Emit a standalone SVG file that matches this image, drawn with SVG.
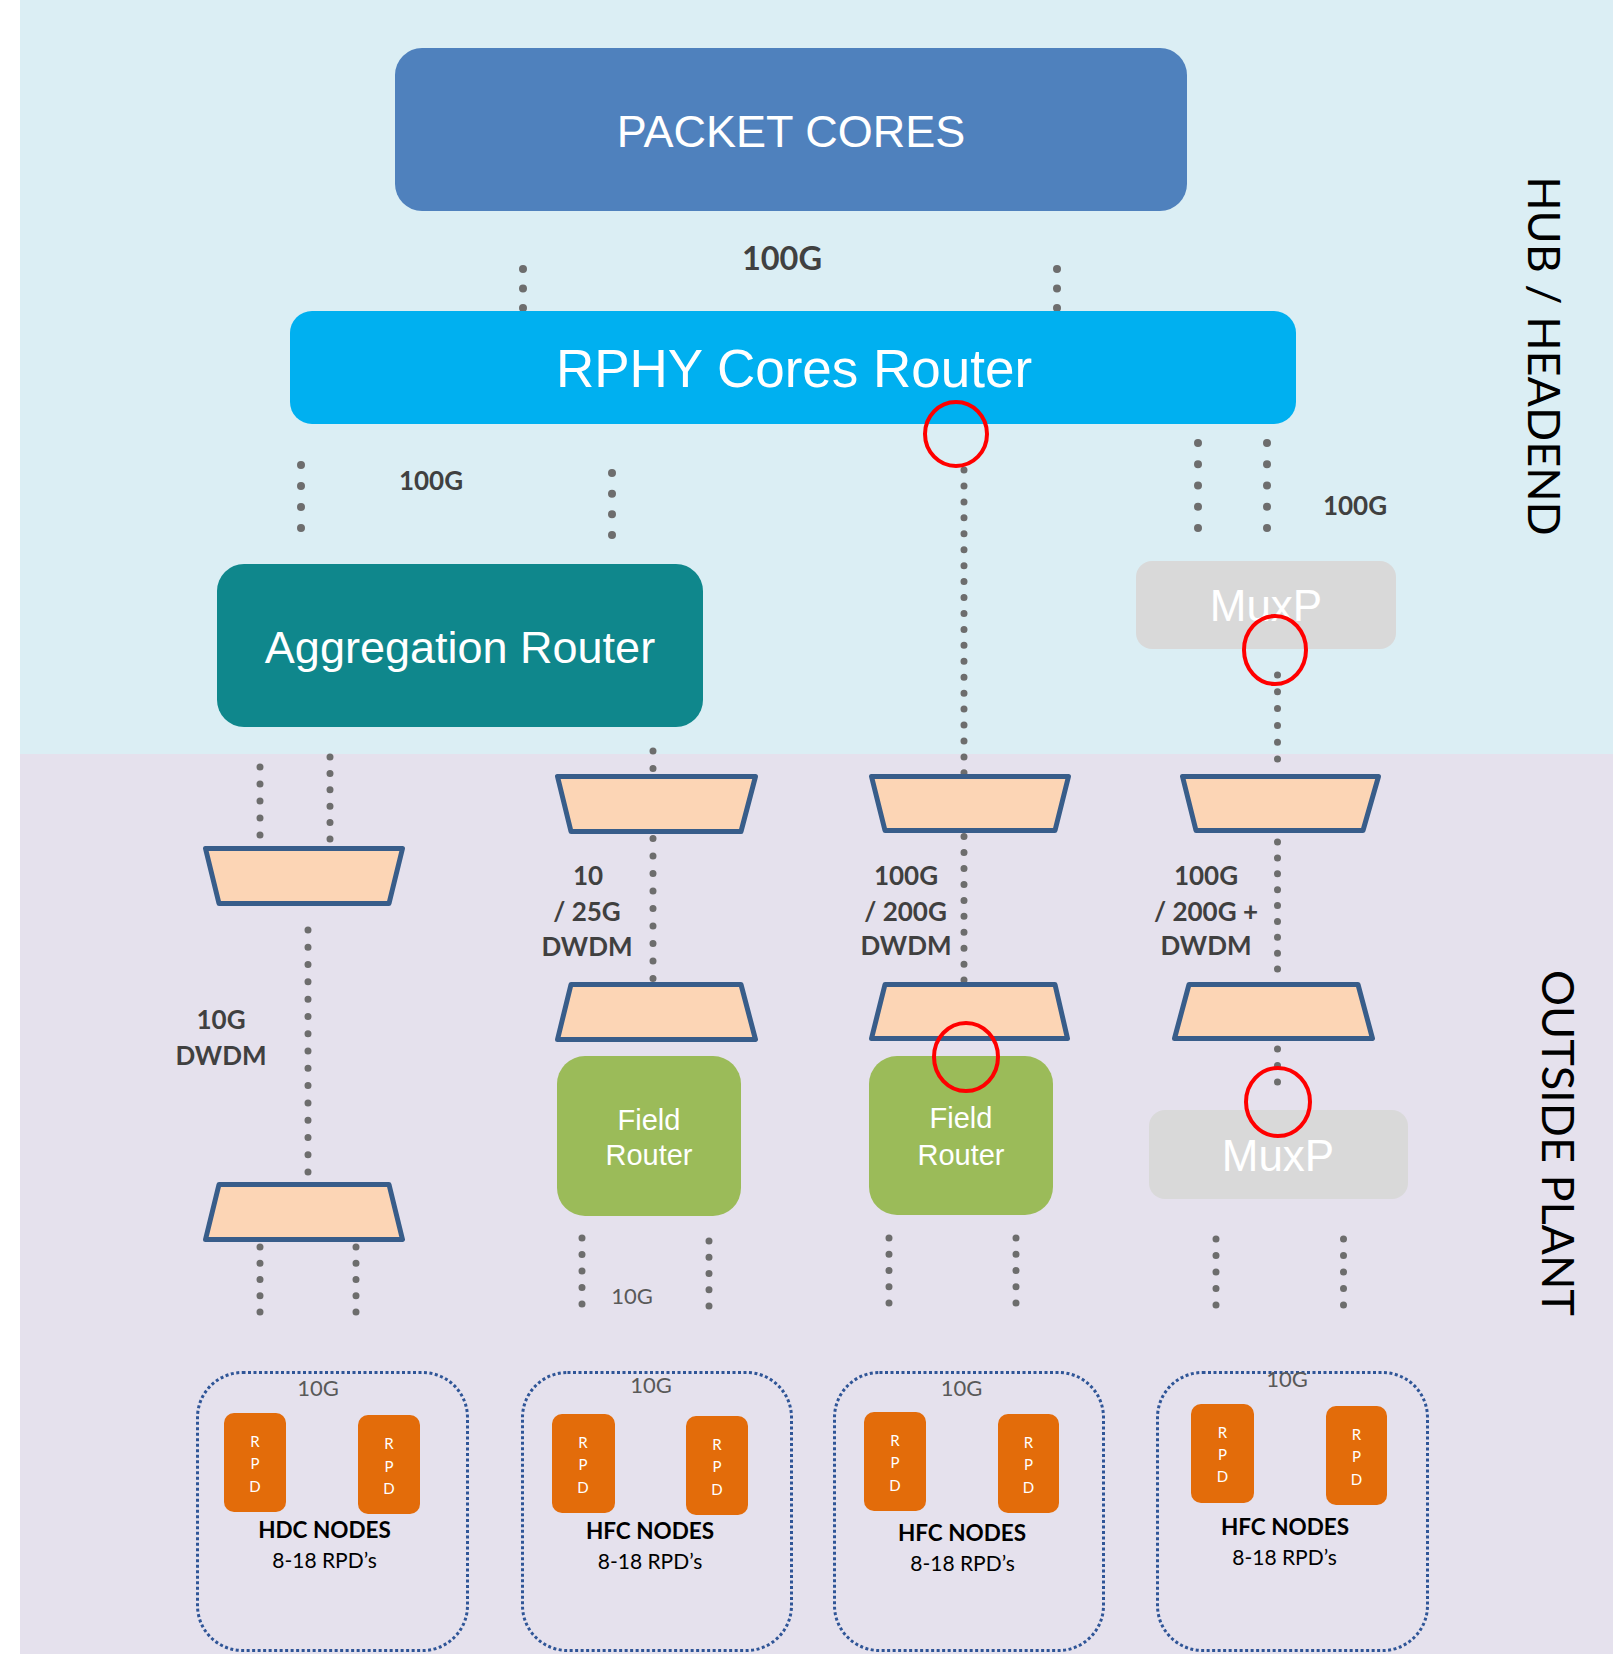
<svg xmlns="http://www.w3.org/2000/svg" width="1613" height="1654" viewBox="0 0 1613 1654">
  <style>
    .node-label { font-family: "Liberation Sans", Arial, sans-serif; fill: #ffffff; text-anchor: middle; }
    .link-label { font-family: Lato, "Liberation Sans", sans-serif; font-weight: bold; fill: #404040; text-anchor: middle; font-size: 26px; }
    .link-label.big { font-size: 32.5px; }
    .speed { font-family: Lato, "Liberation Sans", sans-serif; fill: #595959; text-anchor: middle; font-size: 22px; }
    .zone { font-family: Lato, "Liberation Sans", sans-serif; fill: #000000; text-anchor: middle; font-size: 45px; }
    .group-title { font-family: Lato, "Liberation Sans", sans-serif; font-weight: bold; fill: #000000; text-anchor: middle; font-size: 22.5px; }
    .group-count { font-family: Lato, "Liberation Sans", sans-serif; fill: #000000; text-anchor: middle; font-size: 21px; }
    .rpd { fill: #E36C0A; }
    .rpd-text { font-family: Lato, "Liberation Sans", sans-serif; fill: #ffffff; text-anchor: middle; font-size: 15px; }
    .mux { fill: #FCD5B5; stroke: #385D8A; stroke-width: 5; stroke-linejoin: round; }
    .link { stroke: #6D6D6D; stroke-linecap: round; fill: none; }
    .link-a { stroke-width: 8; }
    .link-b { stroke-width: 7; }
    .cluster { fill: none; stroke: #2F5597; stroke-width: 3; stroke-dasharray: 3 2.5; }
    .mark { fill: none; stroke: #FF0000; stroke-width: 4; }
  </style>

  <!-- zones -->
  <rect x="0" y="0" width="1613" height="1654" fill="#ffffff"/>
  <rect x="20" y="0" width="1593" height="754" fill="#DBEEF4"/>
  <rect x="20" y="754" width="1593" height="900" fill="#E5E1ED"/>
  <text class="zone" transform="translate(1528 356) rotate(90)">HUB / HEADEND</text>
  <text class="zone" transform="translate(1542 1143) rotate(90)">OUTSIDE PLANT</text>

  <!-- connectors: dotted runs, each line ends just past its last dot -->
  <g id="connectors">
    <line class="link link-a" x1="523" y1="269" x2="523" y2="309" stroke-dasharray="0 19.5"/>
    <line class="link link-a" x1="1057" y1="269" x2="1057" y2="309" stroke-dasharray="0 19.5"/>
    <line class="link link-a" x1="301" y1="465" x2="301" y2="529" stroke-dasharray="0 21"/>
    <line class="link link-a" x1="612" y1="473" x2="612" y2="536" stroke-dasharray="0 20.67"/>
    <line class="link link-a" x1="1198" y1="443" x2="1198" y2="529" stroke-dasharray="0 21.25"/>
    <line class="link link-a" x1="1267" y1="443" x2="1267" y2="529" stroke-dasharray="0 21.25"/>
    <line class="link link-b" x1="964" y1="470" x2="964" y2="981" stroke-dasharray="0 15.94"/>
    <line class="link link-b" x1="260" y1="767" x2="260" y2="836" stroke-dasharray="0 17"/>
    <line class="link link-b" x1="330" y1="757" x2="330" y2="840" stroke-dasharray="0 16.4"/>
    <line class="link link-b" x1="653" y1="751" x2="653" y2="979.5" stroke-dasharray="0 17.5"/>
    <line class="link link-b" x1="308" y1="930" x2="308" y2="1173" stroke-dasharray="0 17.29"/>
    <line class="link link-b" x1="260" y1="1247" x2="260" y2="1313" stroke-dasharray="0 16.25"/>
    <line class="link link-b" x1="356" y1="1247" x2="356" y2="1313" stroke-dasharray="0 16.25"/>
    <line class="link link-b" x1="582" y1="1238" x2="582" y2="1305" stroke-dasharray="0 16.5"/>
    <line class="link link-b" x1="709" y1="1241" x2="709" y2="1307" stroke-dasharray="0 16.25"/>
    <line class="link link-b" x1="889" y1="1238" x2="889" y2="1304" stroke-dasharray="0 16.25"/>
    <line class="link link-b" x1="1016" y1="1238" x2="1016" y2="1304" stroke-dasharray="0 16.25"/>
    <line class="link link-b" x1="1277.5" y1="675" x2="1277.5" y2="760" stroke-dasharray="0 16.8"/>
    <line class="link link-b" x1="1277.5" y1="842" x2="1277.5" y2="970" stroke-dasharray="0 15.875"/>
    <line class="link link-b" x1="1277.5" y1="1049" x2="1277.5" y2="1083" stroke-dasharray="0 16.5"/>
    <line class="link link-b" x1="1216" y1="1239" x2="1216" y2="1306" stroke-dasharray="0 16.5"/>
    <line class="link link-b" x1="1343.5" y1="1239" x2="1343.5" y2="1306" stroke-dasharray="0 16.5"/>
  </g>

  <!-- link labels -->
  <g id="link-labels">
    <text class="link-label big" x="782" y="270">100G</text>
    <text class="link-label" x="431" y="490">100G</text>
    <text class="link-label" x="1355" y="515">100G</text>
    <text class="link-label" x="221" y="1029">10G</text>
    <text class="link-label" x="221" y="1065">DWDM</text>
    <text class="link-label" x="588" y="885">10</text>
    <text class="link-label" x="587" y="921">/ 25G</text>
    <text class="link-label" x="587" y="956">DWDM</text>
    <text class="link-label" x="906" y="885">100G</text>
    <text class="link-label" x="905.5" y="921">/ 200G</text>
    <text class="link-label" x="906" y="955">DWDM</text>
    <text class="link-label" x="1206" y="885">100G</text>
    <text class="link-label" x="1206" y="921">/ 200G +</text>
    <text class="link-label" x="1206" y="955">DWDM</text>
    <text class="speed" x="632" y="1304">10G</text>
  </g>

  <!-- core layer -->
  <g id="packet-cores">
    <rect x="395" y="48" width="792" height="163" rx="27" fill="#4F81BD"/>
    <text class="node-label" x="791" y="147" font-size="45">PACKET CORES</text>
  </g>
  <g id="rphy-cores-router">
    <rect x="290" y="311" width="1006" height="113" rx="22" fill="#00B0F0"/>
    <text class="node-label" x="794" y="387" font-size="53">RPHY Cores Router</text>
  </g>
  <g id="aggregation-router">
    <rect x="217" y="564" width="486" height="163" rx="27" fill="#0F878C"/>
    <text class="node-label" x="460" y="663" font-size="45">Aggregation Router</text>
  </g>
  <g id="muxp-hub">
    <rect x="1136" y="561" width="260" height="88" rx="16" fill="#D9D9D9"/>
    <text class="node-label" x="1266" y="621" font-size="44">MuxP</text>
  </g>

  <!-- optical mux / demux pairs -->
  <g id="mux-1a"><polygon class="mux" points="205.5,848.5 402.5,848.5 389,903.5 219,903.5"/></g>
  <g id="mux-1b"><polygon class="mux" points="219,1184.5 389,1184.5 402.5,1239.5 205.5,1239.5"/></g>
  <g id="mux-2a"><polygon class="mux" points="557.5,776.5 755.5,776.5 741,831.5 571,831.5"/></g>
  <g id="mux-2b"><polygon class="mux" points="571,984.5 741,984.5 755.5,1039.5 557.5,1039.5"/></g>
  <g id="mux-3a"><polygon class="mux" points="871.5,776.5 1068.5,776.5 1055,830.5 885,830.5"/></g>
  <g id="mux-3b"><polygon class="mux" points="885,984.5 1055,984.5 1067.5,1038.5 871.5,1038.5"/></g>
  <g id="mux-4a"><polygon class="mux" points="1182.5,776.5 1378.5,776.5 1363,830.5 1196,830.5"/></g>
  <g id="mux-4b"><polygon class="mux" points="1189,984.5 1358,984.5 1372.5,1038.5 1174.5,1038.5"/></g>

  <!-- field layer -->
  <g id="field-router-1">
    <rect x="557" y="1056" width="184" height="160" rx="28" fill="#9BBB59"/>
    <text class="node-label" x="649" y="1130" font-size="29">Field</text>
    <text class="node-label" x="649" y="1165" font-size="29">Router</text>
  </g>
  <g id="field-router-2">
    <rect x="869" y="1056" width="184" height="159" rx="28" fill="#9BBB59"/>
    <text class="node-label" x="961" y="1128" font-size="29">Field</text>
    <text class="node-label" x="961" y="1165" font-size="29">Router</text>
  </g>
  <g id="muxp-field">
    <rect x="1149" y="1110" width="259" height="89" rx="16" fill="#D9D9D9"/>
    <text class="node-label" x="1278" y="1171" font-size="44">MuxP</text>
  </g>

  <!-- node clusters -->
  <g id="hdc-nodes">
    <rect class="cluster" x="197.5" y="1372.5" width="270" height="278" rx="45"/>
    <text class="speed" x="318" y="1396">10G</text>
    <rect class="rpd" x="224" y="1413" width="62" height="99" rx="10"/>
    <text class="rpd-text" x="255" y="1447">R</text>
    <text class="rpd-text" x="255" y="1469">P</text>
    <text class="rpd-text" x="255" y="1492">D</text>
    <rect class="rpd" x="358" y="1415" width="62" height="99" rx="10"/>
    <text class="rpd-text" x="389" y="1449">R</text>
    <text class="rpd-text" x="389" y="1472">P</text>
    <text class="rpd-text" x="389" y="1494">D</text>
    <text class="group-title" x="324.5" y="1538">HDC NODES</text>
    <text class="group-count" x="324.5" y="1568">8-18 RPD’s</text>
  </g>
  <g id="hfc-nodes-1">
    <rect class="cluster" x="522.5" y="1372.5" width="269" height="278" rx="45"/>
    <text class="speed" x="651" y="1393">10G</text>
    <rect class="rpd" x="552" y="1414" width="63" height="99" rx="10"/>
    <text class="rpd-text" x="583" y="1448">R</text>
    <text class="rpd-text" x="583" y="1470">P</text>
    <text class="rpd-text" x="583" y="1493">D</text>
    <rect class="rpd" x="686" y="1416" width="62" height="99" rx="10"/>
    <text class="rpd-text" x="717" y="1450">R</text>
    <text class="rpd-text" x="717" y="1472">P</text>
    <text class="rpd-text" x="717" y="1495">D</text>
    <text class="group-title" x="650" y="1539">HFC NODES</text>
    <text class="group-count" x="650" y="1569">8-18 RPD’s</text>
  </g>
  <g id="hfc-nodes-2">
    <rect class="cluster" x="834.5" y="1372.5" width="269" height="278" rx="45"/>
    <text class="speed" x="961.5" y="1396">10G</text>
    <rect class="rpd" x="864" y="1412" width="62" height="99" rx="10"/>
    <text class="rpd-text" x="895" y="1446">R</text>
    <text class="rpd-text" x="895" y="1468">P</text>
    <text class="rpd-text" x="895" y="1491">D</text>
    <rect class="rpd" x="998" y="1414" width="61" height="99" rx="10"/>
    <text class="rpd-text" x="1028.5" y="1448">R</text>
    <text class="rpd-text" x="1028.5" y="1470">P</text>
    <text class="rpd-text" x="1028.5" y="1493">D</text>
    <text class="group-title" x="962" y="1541">HFC NODES</text>
    <text class="group-count" x="962.5" y="1571">8-18 RPD’s</text>
  </g>
  <g id="hfc-nodes-3">
    <rect class="cluster" x="1157.5" y="1372.5" width="270" height="278" rx="45"/>
    <text class="speed" x="1287" y="1387">10G</text>
    <rect class="rpd" x="1191" y="1404" width="63" height="99" rx="10"/>
    <text class="rpd-text" x="1222.5" y="1438">R</text>
    <text class="rpd-text" x="1222.5" y="1460">P</text>
    <text class="rpd-text" x="1222.5" y="1482">D</text>
    <rect class="rpd" x="1326" y="1406" width="61" height="99" rx="10"/>
    <text class="rpd-text" x="1356.5" y="1440">R</text>
    <text class="rpd-text" x="1356.5" y="1462">P</text>
    <text class="rpd-text" x="1356.5" y="1485">D</text>
    <text class="group-title" x="1285" y="1535">HFC NODES</text>
    <text class="group-count" x="1284.5" y="1565">8-18 RPD’s</text>
  </g>

  <!-- highlight rings -->
  <g id="highlights">
    <ellipse class="mark" cx="956" cy="434" rx="31" ry="32"/>
    <ellipse class="mark" cx="1275" cy="650" rx="31" ry="34"/>
    <ellipse class="mark" cx="966" cy="1057" rx="32" ry="34"/>
    <ellipse class="mark" cx="1278" cy="1102" rx="32" ry="34"/>
  </g>
</svg>
